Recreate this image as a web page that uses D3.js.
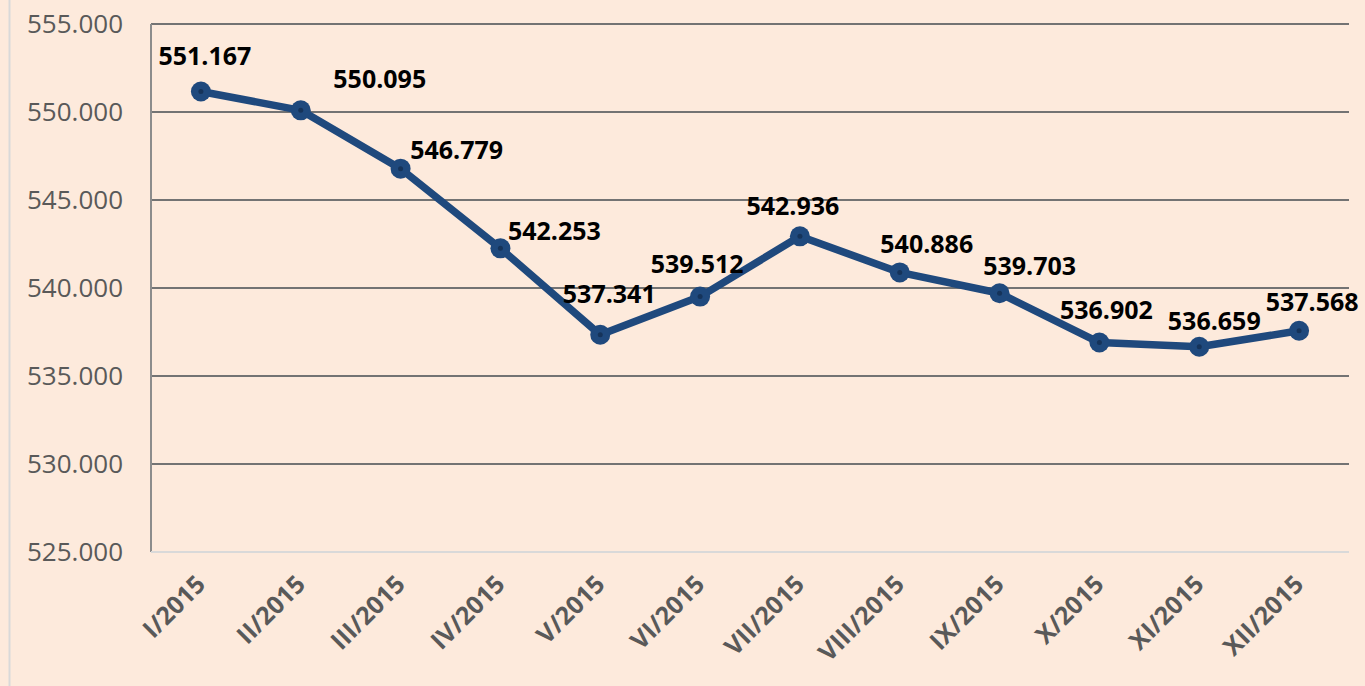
<!DOCTYPE html>
<html>
<head>
<meta charset="utf-8">
<script src="https://cdn.jsdelivr.net/npm/d3@7"></script>
<style>
  html, body { margin: 0; padding: 0; background: #fdeadc; }
  svg { display: block; }
</style>
</head>
<body>
<div id="graph"></div>
<script>
// months + values
var months = ['I/2015', 'II/2015', 'III/2015', 'IV/2015', 'V/2015', 'VI/2015',
  'VII/2015', 'VIII/2015', 'IX/2015', 'X/2015', 'XI/2015', 'XII/2015']
var values = [551.167, 550.095, 546.779, 542.253, 537.341, 539.512,
  542.936, 540.886, 539.703, 536.902, 536.659, 537.568]
var yTicks = [525, 530, 535, 540, 545, 550, 555]

// where excel put each data label, relative to its point
var labelOffsets = [[4, -35], [79, -31], [56, -18], [54, -17], [9, -41], [-3, -32],
  [-7, -30], [27, -28], [30, -27], [7, -32], [15, -26], [13, -29]]

var width = 1365, height = 686
var margin = {top: 24, left: 151, right: 16, bottom: 134}

var svg = d3.select('#graph').append('svg')
  .attr('width', width)
  .attr('height', height)

svg.append('rect')
  .attr('width', width).attr('height', height)
  .attr('fill', '#fdeadc')

// chart-area border on the left edge
svg.append('line')
  .attr('x1', 9.5).attr('x2', 9.5).attr('y1', 0).attr('y2', height)
  .attr('stroke', '#d9d9d9').attr('stroke-width', 2)

var x = d3.scalePoint()
  .domain(months)
  .range([margin.left, width - margin.right])
  .padding(0.5)

var y = d3.scaleLinear()
  .domain([525, 555])
  .range([height - margin.bottom, margin.top])

// gridlines
svg.append('g')
  .selectAll('line')
  .data(yTicks.filter(d => d != 525))
  .join('line')
  .attr('x1', margin.left).attr('x2', width - margin.right)
  .attr('y1', d => y(d)).attr('y2', d => y(d))
  .attr('stroke', '#737373').attr('stroke-width', 2)

// axes lines
svg.append('line')
  .attr('x1', margin.left).attr('x2', margin.left)
  .attr('y1', y(555)).attr('y2', y(525))
  .attr('stroke', '#8c8c8c').attr('stroke-width', 2)

svg.append('line')
  .attr('x1', margin.left).attr('x2', width - margin.right)
  .attr('y1', y(525)).attr('y2', y(525))
  .attr('stroke', '#d9d9d9').attr('stroke-width', 2)

// y tick labels
var fmt = d => d3.format('.3f')(d)
svg.append('g')
  .selectAll('text')
  .data(yTicks)
  .join('text')
  .attr('x', 123)
  .attr('y', d => y(d))
  .attr('dy', '0.35em')
  .attr('text-anchor', 'end')
  .attr('font-family', 'Open Sans, sans-serif')
  .attr('font-size', 26)
  .attr('fill', '#595959')
  .text(fmt)

// x tick labels, rotated
svg.append('g')
  .selectAll('text')
  .data(months)
  .join('text')
  .attr('transform', d => `translate(${x(d) + 6},${y(525) + 34}) rotate(-45)`)
  .attr('text-anchor', 'end')
  .attr('font-family', 'Open Sans, sans-serif')
  .attr('font-weight', 'bold')
  .attr('font-size', 25)
  .attr('fill', '#595959')
  .text(d => d)

var pts = months.map((m, i) => ({m, v: values[i], off: labelOffsets[i]}))

var line = d3.line()
  .x(d => x(d.m))
  .y(d => y(d.v))

svg.append('path')
  .datum(pts)
  .attr('d', line)
  .attr('fill', 'none')
  .attr('stroke', '#1f497d')
  .attr('stroke-width', 7.5)
  .attr('stroke-linejoin', 'round')

var ptSel = svg.append('g')
  .selectAll('g')
  .data(pts)
  .join('g')
  .attr('transform', d => `translate(${x(d.m)},${y(d.v)})`)

ptSel.append('circle')
  .attr('r', 10)
  .attr('fill', '#1f497d')

ptSel.append('circle')
  .attr('r', 2.5)
  .attr('fill', '#15335a')

ptSel.append('text')
  .attr('x', d => d.off[0])
  .attr('y', d => d.off[1])
  .attr('dy', '0.35em')
  .attr('text-anchor', 'middle')
  .attr('font-family', 'Open Sans, sans-serif')
  .attr('font-weight', 'bold')
  .attr('font-size', 25)
  .attr('fill', '#000')
  .text(d => fmt(d.v))
</script>
</body>
</html>
